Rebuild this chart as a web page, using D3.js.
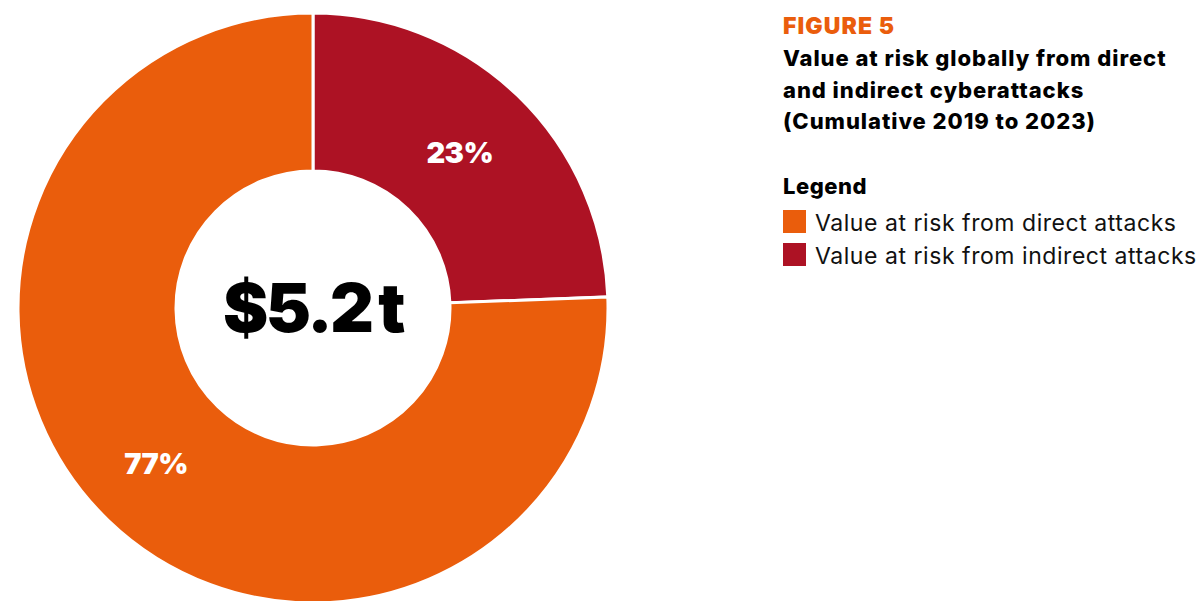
<!DOCTYPE html>
<html>
<head>
<meta charset="utf-8">
<script src="https://cdn.jsdelivr.net/npm/d3@7"></script>
<style>
  body { margin: 0; background: #fff; }
  svg text { font-family: Inter, "Liberation Sans", Arial, sans-serif; }
</style>
</head>
<body>
<div id="chart"></div>
<script>
// data
const categories = ['Value at risk from indirect attacks', 'Value at risk from direct attacks'];
const shares = [24.4, 75.6];          // slice sizes as drawn
const shareLabels = ['23%', '77%'];    // printed labels
const colors = ['#ad1224', '#ea5d0c'];
const totalLabel = '$5.2\u2009t';
const titleLines = [
  'Value at risk globally from direct',
  'and indirect cyberattacks',
  '(Cumulative 2019 to 2023)'
];
const legendOrder = [1, 0];

const W = 1203, H = 601;
const cx = 313, cy = 308, rOuter = 295, rInner = 137;

const svg = d3.select('#chart').append('svg')
  .attr('width', W).attr('height', H);

const data = categories.map((c, i) => ({ category: c, value: shares[i], label: shareLabels[i], color: colors[i] }));

const pie = d3.pie().sort(null).value(d => d.value);
const arc = d3.arc().innerRadius(rInner).outerRadius(rOuter);
const labelArc = d3.arc().innerRadius((rInner + rOuter) / 2).outerRadius((rInner + rOuter) / 2);

const g = svg.append('g').attr('transform', `translate(${cx},${cy})`);

g.selectAll('path')
  .data(pie(data))
  .enter()
  .append('path')
  .attr('d', arc)
  .attr('fill', d => d.data.color)
  .attr('stroke', '#fff')
  .attr('stroke-width', 3);

// percentage labels, nudged a little toward the reference spots
g.selectAll('.pct')
  .data(pie(data))
  .enter()
  .append('text')
  .attr('class', 'pct')
  .attr('transform', (d, i) => {
    const c = labelArc.centroid(d);
    return `translate(${c[0] + (i === 0 ? -3 : -7)},${c[1]})`;
  })
  .attr('text-anchor', 'middle')
  .attr('dy', '0.36em')
  .attr('fill', '#fff')
  .style('font-size', '29px')
  .style('font-weight', 900)
  .style('letter-spacing', '-0.5px')
  .text(d => d.data.label);

g.append('text')
  .attr('text-anchor', 'middle')
  .attr('dy', '0.36em')
  .attr('fill', '#000')
  .style('font-size', '68px')
  .style('font-weight', 900)
  .style('letter-spacing', '-2.5px')
  .text(totalLabel);

// right side texts
const tx = 783;
svg.append('text')
  .attr('x', tx).attr('y', 34)
  .attr('fill', '#ea5d0c')
  .style('font-size', '23px')
  .style('font-weight', 900)
  .style('letter-spacing', '1.1px')
  .text('FIGURE 5');

svg.selectAll('.title')
  .data(titleLines)
  .enter()
  .append('text')
  .attr('class', 'title')
  .attr('x', tx)
  .attr('y', (d, i) => 66 + i * 31.5)
  .attr('fill', '#000')
  .style('font-size', '22px')
  .style('font-weight', 800)
  .style('letter-spacing', '0.95px')
  .text(d => d);

svg.append('text')
  .attr('x', tx).attr('y', 194)
  .attr('fill', '#000')
  .style('font-size', '22px')
  .style('font-weight', 800)
  .style('letter-spacing', '0.5px')
  .text('Legend');

const leg = svg.selectAll('.leg')
  .data(legendOrder.map(i => data[i]))
  .enter()
  .append('g')
  .attr('class', 'leg')
  .attr('transform', (d, i) => `translate(${tx},${210 + i * 33})`);

leg.append('rect')
  .attr('width', 23).attr('height', 23)
  .attr('fill', d => d.color);

leg.append('text')
  .attr('x', 32).attr('y', 21)
  .attr('fill', '#111')
  .style('font-size', '23px')
  .style('font-weight', 400)
  .style('letter-spacing', '0.55px')
  .text(d => d.category);
</script>
</body>
</html>
